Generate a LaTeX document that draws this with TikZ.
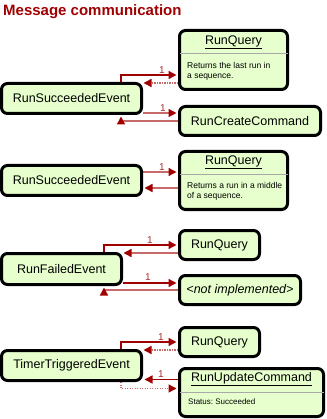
\documentclass[tikz,border=0pt]{standalone}
\usepackage{fontspec}
\setmainfont{Liberation Sans}
\usetikzlibrary{arrows.meta,backgrounds}

\definecolor{boxfill}{HTML}{E6FFCC}
\definecolor{deepred}{HTML}{A00000}
\definecolor{softred}{HTML}{C86A6A}
\definecolor{labelred}{HTML}{A83030}
\definecolor{rulegray}{HTML}{A8A8A8}

\tikzset{
  box/.style={draw=black, line width=3pt, fill=boxfill, rounded corners=6pt,
              inner sep=0pt, font=\fontsize{12.5}{15}\selectfont},
  desc/.style={inner sep=0pt, align=left, anchor=north west,
               font=\fontsize{8.5}{10}\selectfont},
  hdr/.style={inner sep=0pt, font=\fontsize{12.5}{15}\selectfont},
  lbl/.style={inner sep=0pt, text=labelred, font=\fontsize{10}{12}\selectfont},
  divider/.style={draw=rulegray, line width=1pt},
  msg/.style={line width=1.4pt, shorten >=1.5pt,
              -{Triangle[length=8pt,width=8pt,color=deepred]}},
  fwd/.style={msg, draw=deepred},
  soft/.style={msg, draw=softred},
  dotline/.style={dash pattern=on 1.3pt off 1.2pt},
  heading/.style={inner sep=0pt, anchor=base west, text=deepred,
                  font=\fontsize{15}{18}\selectfont\bfseries},
}

\begin{document}
\begin{tikzpicture}[x=1pt, y=-1pt]
  \useasboundingbox (0,0) rectangle (326,419);

  \node[heading] (ttl) at (3,16) {Message communication};

  % ---- first case: run succeeded, last run of a sequence
  \node[box, minimum width=140pt, minimum height=30pt] (e1) at (71.5,98.5) {RunSucceededEvent};
  \node[box, minimum width=108pt, minimum height=59pt] (q1) at (233.5,60) {};
  \node[hdr] (q1h) at (233.5,42.5) {\underline{RunQuery}};
  \draw[divider] (179.5,54) -- (287.5,54);
  \node[desc] (q1d) at (187,62) {Returns the last run in\\a sequence.};
  \node[box, minimum width=141pt, minimum height=29pt] (c1) at (250,121) {RunCreateCommand};

  % ---- second case: run succeeded in the middle of a sequence
  \node[box, minimum width=140pt, minimum height=30pt] (e2) at (71.5,180.5) {RunSucceededEvent};
  \node[box, minimum width=108pt, minimum height=58pt] (q2) at (233.5,180.5) {};
  \node[hdr] (q2h) at (233.5,162) {\underline{RunQuery}};
  \draw[divider] (179.5,174.5) -- (287.5,174.5);
  \node[desc] (q2d) at (187,182) {Returns a run in a middle\\of a sequence.};

  % ---- third case: run failed
  \node[box, minimum width=80pt, minimum height=29pt] (q3) at (219.5,245) {RunQuery};
  \node[box, minimum width=120pt, minimum height=31pt] (e3) at (61.5,269) {RunFailedEvent};
  \node[box, minimum width=121pt, minimum height=29pt] (n3) at (240,290) {\itshape <not implemented>};

  % ---- fourth case: timer triggered
  \node[box, minimum width=80pt, minimum height=29pt] (q4) at (219.5,342) {RunQuery};
  \node[box, minimum width=140pt, minimum height=30pt] (e4) at (71.5,365.5) {TimerTriggeredEvent};
  \node[box, minimum width=144pt, minimum height=48pt] (u4) at (251.5,392.5) {};
  \node[hdr] (u4h) at (251.5,379) {\underline{RunUpdateCommand}};
  \draw[divider] (179.5,392) -- (323.5,392);
  \node[desc, font=\fontsize{8}{10}\selectfont] (u4d) at (188,398) {Status:\ Succeeded};

  % ---- message labels
  \node[lbl] (l1a) at (162,70.5) {1};
  \node[lbl] (l1b) at (163,108) {1};
  \node[lbl] (l2a) at (162,167) {1};
  \node[lbl] (l3a) at (150,240.5) {1};
  \node[lbl] (l3b) at (148,277.5) {1};
  \node[lbl] (l4a) at (161,337.5) {1};
  \node[lbl] (l4b) at (161,374) {1};

  % ---- messages, drawn beneath the boxes
  \coordinate (k1) at (121,75);
  \coordinate (r1) at (142,83);
  \coordinate (f1) at (0,113);
  \coordinate (b1) at (121,121);
  \coordinate (f2) at (0,172);
  \coordinate (r2) at (0,188);
  \coordinate (k3) at (104,245);
  \coordinate (r3) at (122,253);
  \coordinate (f3) at (0,283);
  \coordinate (b3) at (104,290);
  \coordinate (k4) at (121,342);
  \coordinate (r4) at (142,350);
  \coordinate (g4) at (0,379.5);
  \coordinate (d4) at (121,388.5);

  \begin{pgfonlayer}{background}
    \fill[white] (0,0) rectangle (326,419);

    \draw[fwd] (e1.north -| k1) |- (q1.west |- k1);
    \draw[soft, dotline] (q1.west |- r1) -- (r1);
    \draw[soft] (e1.east |- f1) -- (c1.west |- f1);
    \draw[soft] (c1.west |- b1) -| (e1.south -| b1);

    \draw[soft] (e2.east |- f2) -- (q2.west |- f2);
    \draw[soft] (q2.west |- r2) -- (e2.east |- r2);

    \draw[fwd] (e3.north -| k3) |- (q3.west |- k3);
    \draw[soft] (q3.west |- r3) -- (r3);
    \draw[fwd] (e3.east |- f3) -- (n3.west |- f3);
    \draw[soft] (n3.west |- b3) -| (e3.south -| b3);

    \draw[fwd] (e4.north -| k4) |- (q4.west |- k4);
    \draw[soft, dotline] (q4.west |- r4) -- (r4);
    \draw[fwd] (u4.west |- g4) -- (e4.east |- g4);
    \draw[soft, dotline] (e4.south -| d4) |- (u4.west |- d4);
  \end{pgfonlayer}
\end{tikzpicture}
\end{document}
